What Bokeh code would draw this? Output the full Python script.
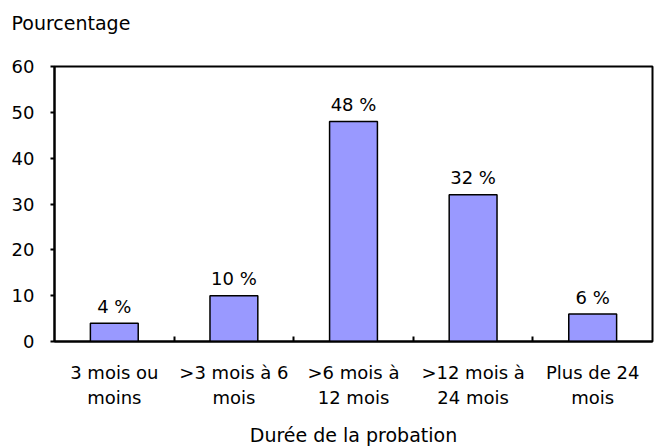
from bokeh.plotting import figure
from bokeh.models import ColumnDataSource, FixedTicker, Range1d, Title
from bokeh.embed import file_html
from bokeh.resources import INLINE
from bokeh.core.properties import value

categories = ["3 mois ou\nmoins", ">3 mois à 6\nmois", ">6 mois à\n12 mois",
              ">12 mois à\n24 mois", "Plus de 24\nmois"]
values = [4, 10, 48, 32, 6]
y_ticks = [0, 10, 20, 30, 40, 50, 60]

FONT = "DejaVu Sans"
FS = "19px"

n = len(categories)
centers = [2 * i + 1 for i in range(n)]
bounds = [2 * i for i in range(1, n)]
labels = [f"{v} %" for v in values]

src = ColumnDataSource(dict(x=centers, top=values, label=labels))

p = figure(frame_width=598, frame_height=275, output_backend="svg",
           toolbar_location=None, x_range=Range1d(0, 2 * n), y_range=Range1d(0, 60),
           min_border_left=54, min_border_right=10, min_border_top=66, min_border_bottom=104)

p.vbar(x="x", top="top", width=0.8, bottom=0, source=src,
       fill_color="#9999FF", line_color="black", line_width=1.5)
p.text(x="x", y="top", text="label", source=src, text_align="center",
       text_baseline="alphabetic", y_offset=-17, text_font=value(FONT),
       text_font_size="18px", text_color="black")

p.xgrid.visible = False
p.ygrid.visible = False
p.outline_line_color = "black"
p.outline_line_width = 2
p.outline_line_alpha = 1

xa = p.xaxis[0]
xa.ticker = FixedTicker(ticks=centers, minor_ticks=bounds)
xa.major_label_overrides = {c: lab for c, lab in zip(centers, categories)}
xa.major_tick_line_color = None
xa.minor_tick_in = 5
xa.minor_tick_out = 0
xa.minor_tick_line_width = 2
xa.minor_tick_line_color = "black"
xa.axis_line_width = 2
xa.axis_line_color = "black"
xa.major_label_text_font = FONT
xa.major_label_text_font_size = "18px"
xa.major_label_text_color = "black"
xa.major_label_text_line_height = 1.2
xa.major_label_standoff = 14
xa.axis_label = "Durée de la probation"
xa.axis_label_text_font = FONT
xa.axis_label_text_font_size = FS
xa.axis_label_text_font_style = "normal"
xa.axis_label_text_color = "black"
xa.axis_label_standoff = 13

ya = p.yaxis[0]
ya.ticker = FixedTicker(ticks=y_ticks)
ya.minor_tick_line_color = None
ya.major_tick_in = 0
ya.major_tick_out = 4
ya.major_tick_line_width = 2
ya.axis_line_width = 2
ya.axis_line_color = "black"
ya.major_label_text_font = FONT
ya.major_label_text_font_size = "18px"
ya.major_label_text_color = "black"
ya.major_label_standoff = 16

# spacer panel between the frame and the title, to lift the title
spacer = Title(text=" ", text_font=FONT, text_font_size=FS, standoff=4)
p.add_layout(spacer, "above")

p.title.text = "Pourcentage"
p.title.align = "left"
p.title.vertical_align = "bottom"
p.title.text_font = FONT
p.title.text_font_size = FS
p.title.text_font_style = "normal"
p.title.text_color = "black"
p.title.offset = -43
p.title.standoff = 10

open("out.html", "w").write(file_html(p, INLINE))
